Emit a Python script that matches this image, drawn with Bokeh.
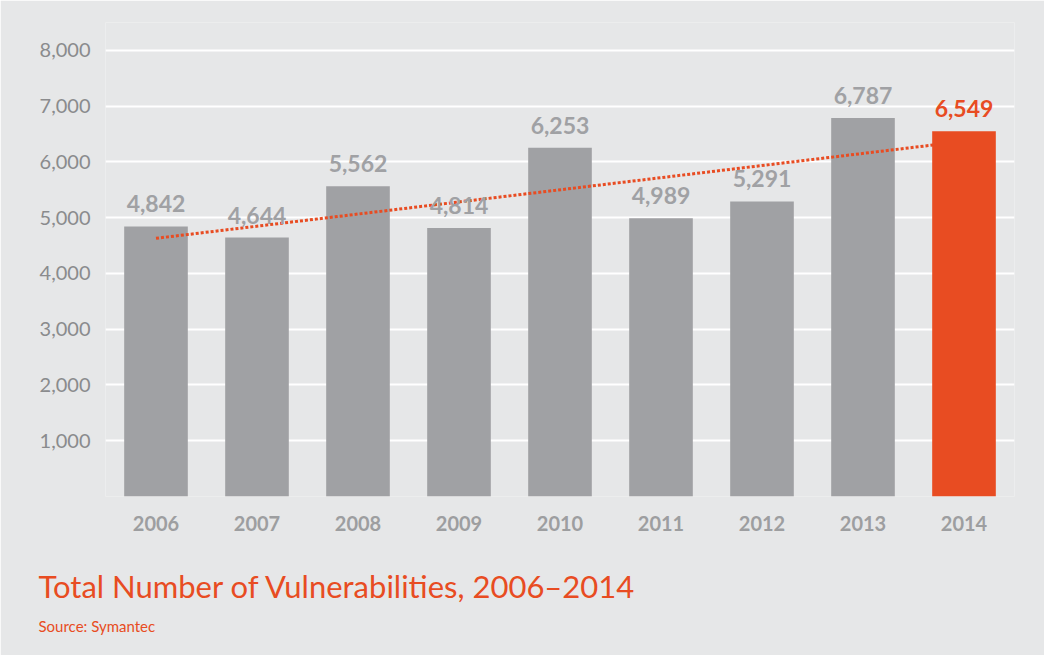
from bokeh.plotting import figure
from bokeh.models import ColumnDataSource, FixedTicker, NumeralTickFormatter, Title, FactorRange, Range1d
from bokeh.core.properties import value
from bokeh.embed import file_html
from bokeh.resources import INLINE

years = ["2006", "2007", "2008", "2009", "2010", "2011", "2012", "2013", "2014"]
counts = [4842, 4644, 5562, 4814, 6253, 4989, 5291, 6787, 6549]
value_labels = ["4,842", "4,644", "5,562", "4,814", "6,253", "4,989", "5,291", "6,787", "6,549"]
trend_years = ["2006", "2014"]
trend_values = [4630, 6370]
y_ticks = [0, 1000, 2000, 3000, 4000, 5000, 6000, 7000, 8000]

BG = "#e6e7e8"
GRAY = "#a0a1a4"
ORANGE = "#e84c22"
FONT = "Lato"

p = figure(x_range=FactorRange(*years), y_range=Range1d(0, 8500),
           width=1044, height=655, output_backend="svg", toolbar_location=None,
           min_border_left=105, min_border_right=30, min_border_top=22, min_border_bottom=159)
p.background_fill_color = BG
p.border_fill_color = BG
p.outline_line_color = None

gray_src = ColumnDataSource(dict(x=years[:-1], top=counts[:-1]))
hi_src = ColumnDataSource(dict(x=years[-1:], top=counts[-1:]))
p.vbar(x="x", top="top", width=0.63, source=gray_src, fill_color=GRAY, line_color=None)
p.line(x=trend_years, y=trend_values, line_color=ORANGE, line_width=3, line_dash="3 2")
p.vbar(x="x", top="top", width=0.63, source=hi_src, fill_color=ORANGE, line_color=None)

colors = [GRAY] * (len(years) - 1) + [ORANGE]
lab_src = ColumnDataSource(dict(x=years, y=counts, t=value_labels, c=colors))
p.text(x="x", y="y", text="t", source=lab_src, text_color="c", text_align="center",
       text_baseline="bottom", y_offset=-14, text_font=value(FONT),
       text_font_style="bold", text_font_size="23px")

p.xgrid.grid_line_color = None
p.ygrid.grid_line_color = "white"
p.ygrid.grid_line_width = 2
p.ygrid.ticker = FixedTicker(ticks=y_ticks)

p.yaxis.ticker = FixedTicker(ticks=y_ticks)
p.yaxis.formatter = NumeralTickFormatter(format="0,0")
p.yaxis.major_label_overrides = {0: ""}
p.yaxis.axis_line_color = None
p.yaxis.major_tick_line_color = None
p.yaxis.minor_tick_line_color = None
p.yaxis.major_label_standoff = 9
p.yaxis.major_label_text_color = "#8a8b8d"
p.yaxis.major_label_text_font = FONT
p.yaxis.major_label_text_font_size = "20px"

p.xaxis.axis_line_color = None
p.xaxis.major_tick_line_color = None
p.xaxis.major_label_standoff = 13
p.xaxis.major_label_text_color = "#9d9ea0"
p.xaxis.major_label_text_font = FONT
p.xaxis.major_label_text_font_style = "bold"
p.xaxis.major_label_text_font_size = "20px"

# small spacer between the year labels and the caption
p.add_layout(Title(text=" ", text_font_size="9px", standoff=10), "below")
p.add_layout(Title(text="Total Number of Vulnerabilities, 2006\u20132014", align="left",
                   offset=-67, standoff=19, text_color=ORANGE, text_font=FONT,
                   text_font_size="31px", text_font_style="normal"), "below")
p.add_layout(Title(text="Source: Symantec", align="left", offset=-67, standoff=0,
                   text_color=ORANGE, text_font=FONT, text_font_size="15px",
                   text_font_style="normal"), "below")

open("out.html", "w").write(file_html(p, INLINE))
